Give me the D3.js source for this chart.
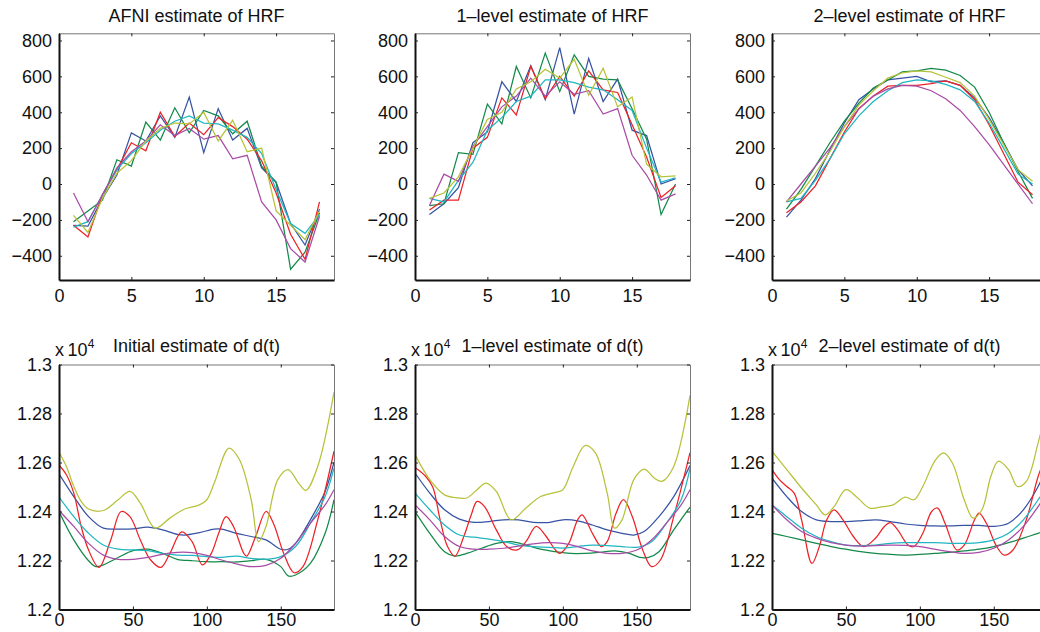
<!DOCTYPE html>
<html>
<head>
<meta charset="utf-8">
<script src="https://cdn.jsdelivr.net/npm/d3@7"></script>
<style>
  body { margin: 0; background: #fff; }
  svg { display: block; }
  text { font-family: "Liberation Sans", Arial, Helvetica, sans-serif; fill: #111; }
</style>
</head>
<body>
<svg id="chart"></svg>
<script>
// matlab colour order: blue, green, red, cyan, magenta, yellow
let colors = ["#3653a4", "#13894a", "#ec2227", "#1fb6c1", "#a94ca6", "#b7c239"]

let hrfIndex = [1, 2, 3, 4, 5, 6, 7, 8, 9, 10, 11, 12, 13, 14, 15, 16, 17, 18]

let afniHrf = [
    [-230, -235, -80, 50, 285, 240, 380, 260, 485, 175, 420, 245, 310, 90, 10, -220, -340, -140],
    [-210, -150, -90, 135, 100, 345, 245, 425, 285, 410, 380, 280, 350, 100, 10, -475, -380, -160],
    [-230, -295, -60, 80, 230, 185, 400, 265, 340, 275, 370, 320, 250, 130, -50, -280, -420, -100],
    [-240, -210, -60, 80, 170, 230, 300, 350, 380, 340, 335, 300, 260, 170, -30, -220, -275, -170],
    [-50, -210, -60, 90, 180, 240, 330, 270, 310, 250, 270, 140, 160, -100, -200, -360, -435, -180],
    [-175, -270, -80, 60, 130, 240, 310, 340, 335, 400, 240, 355, 180, 200, -150, -230, -310, -150]
]

let level1Hrf = [
    [-170, -110, -20, 230, 290, 570, 460, 660, 470, 760, 390, 700, 460, 585, 300, 270, 0, 30],
    [-120, -110, 175, 165, 445, 335, 655, 480, 730, 515, 720, 600, 585, 580, 420, 250, -170, 0],
    [-145, -90, -90, 200, 260, 480, 385, 655, 475, 600, 490, 630, 525, 510, 330, 150, -75, -10],
    [-80, -100, 20, 120, 300, 370, 460, 490, 580, 580, 565, 540, 525, 470, 410, 200, 10, 35],
    [-120, 55, 15, 210, 320, 430, 490, 590, 490, 570, 500, 520, 390, 420, 160, 50, -90, -55],
    [-80, -50, 40, 200, 360, 400, 530, 570, 640, 590, 695, 495, 645, 430, 485, 110, 40, 45]
]

let level2Hrf = [
    [-185, -90, 30, 190, 340, 470, 530, 580, 590, 600, 570, 575, 550, 480, 370, 230, 80, -10],
    [-140, -30, 100, 230, 350, 450, 535, 580, 625, 630, 645, 635, 605, 540, 400, 230, 70, -80],
    [-160, -100, -10, 140, 290, 420, 490, 545, 550, 550, 560, 575, 550, 470, 330, 170, 10, -60],
    [-100, -80, 20, 140, 280, 380, 460, 520, 565, 580, 575, 555, 525, 460, 340, 200, 55, 0],
    [-100, 0, 100, 200, 320, 420, 490, 530, 550, 545, 520, 475, 410, 320, 220, 110, 0, -110],
    [-95, -50, 60, 180, 320, 440, 520, 590, 620, 630, 625, 595, 565, 490, 360, 220, 80, 15]
]

// d(t) series as [t, value] pairs
let initBlue = [[0, 12554], [10, 12461], [20, 12379], [30, 12332], [40, 12328], [50, 12329], [60, 12336], [70, 12325], [80, 12307], [85, 12304], [95, 12314], [105, 12328], [110, 12328], [120, 12311], [130, 12298], [140, 12284], [150, 12246], [155, 12246], [160, 12270], [170, 12366], [180, 12482], [186, 12601]]
let initGreen = [[0, 12400], [10, 12284], [20, 12199], [25, 12175], [30, 12182], [40, 12212], [50, 12240], [60, 12246], [70, 12229], [80, 12205], [90, 12199], [100, 12195], [110, 12195], [120, 12194], [130, 12199], [140, 12205], [150, 12175], [155, 12137], [160, 12141], [170, 12188], [180, 12311], [186, 12448]]
let initRed = [[0, 12590], [5, 12550], [10, 12475], [15, 12339], [20, 12243], [27, 12172], [35, 12284], [42, 12400], [48, 12379], [55, 12284], [62, 12202], [69, 12172], [75, 12229], [83, 12317], [90, 12277], [97, 12182], [103, 12229], [108, 12311], [113, 12379], [118, 12339], [125, 12229], [127, 12218], [133, 12298], [140, 12400], [145, 12352], [152, 12229], [159, 12150], [165, 12175], [175, 12366], [186, 12646]]
let initCyan = [[0, 12459], [10, 12379], [20, 12311], [30, 12263], [40, 12246], [50, 12243], [60, 12240], [70, 12229], [80, 12222], [90, 12221], [100, 12216], [110, 12213], [120, 12218], [130, 12209], [140, 12205], [150, 12216], [160, 12257], [170, 12352], [180, 12461], [186, 12577]]
let initMagenta = [[0, 12404], [10, 12339], [20, 12270], [30, 12222], [40, 12205], [50, 12205], [60, 12213], [70, 12225], [80, 12233], [90, 12232], [100, 12221], [110, 12202], [120, 12186], [130, 12175], [140, 12180], [150, 12209], [160, 12270], [170, 12352], [180, 12427], [186, 12489]]
let initYellow = [[0, 12642], [5, 12584], [10, 12502], [15, 12441], [20, 12410], [30, 12404], [40, 12448], [48, 12482], [55, 12434], [65, 12332], [75, 12373], [85, 12410], [95, 12427], [100, 12448], [105, 12516], [115, 12659], [122, 12612], [130, 12448], [135, 12277], [140, 12339], [148, 12530], [155, 12571], [162, 12516], [167, 12486], [175, 12584], [186, 12887]]

let l1Blue = [[0, 12557], [10, 12475], [20, 12407], [30, 12369], [40, 12356], [50, 12359], [60, 12366], [70, 12366], [80, 12356], [90, 12355], [100, 12366], [110, 12362], [120, 12345], [130, 12325], [140, 12311], [148, 12304], [155, 12318], [165, 12379], [175, 12461], [186, 12588]]
let l1Green = [[0, 12400], [10, 12311], [20, 12236], [27, 12218], [35, 12229], [45, 12250], [55, 12270], [65, 12277], [75, 12263], [85, 12246], [95, 12236], [105, 12229], [115, 12229], [125, 12233], [135, 12239], [145, 12229], [152, 12213], [158, 12213], [165, 12236], [175, 12325], [186, 12418]]
let l1Red = [[0, 12580], [7, 12545], [12, 12500], [17, 12366], [22, 12257], [27, 12218], [33, 12298], [38, 12386], [42, 12441], [47, 12420], [55, 12325], [62, 12257], [69, 12243], [75, 12277], [82, 12339], [88, 12304], [95, 12243], [98, 12229], [104, 12270], [110, 12366], [113, 12386], [120, 12311], [126, 12257], [130, 12277], [136, 12393], [141, 12448], [147, 12379], [154, 12243], [160, 12175], [166, 12202], [175, 12379], [186, 12640]]
let l1Cyan = [[0, 12475], [10, 12407], [20, 12345], [30, 12304], [40, 12295], [50, 12287], [60, 12277], [70, 12263], [80, 12257], [90, 12254], [100, 12251], [110, 12257], [120, 12263], [130, 12261], [140, 12257], [150, 12254], [160, 12277], [170, 12352], [180, 12448], [186, 12576]]
let l1Magenta = [[0, 12427], [10, 12366], [20, 12298], [30, 12257], [40, 12246], [50, 12246], [60, 12250], [70, 12259], [80, 12268], [90, 12273], [100, 12270], [110, 12257], [120, 12239], [130, 12229], [140, 12229], [150, 12243], [160, 12284], [170, 12352], [180, 12427], [186, 12489]]
let l1Yellow = [[0, 12632], [10, 12530], [20, 12468], [30, 12455], [35, 12455], [42, 12489], [48, 12516], [55, 12482], [65, 12366], [75, 12414], [85, 12461], [95, 12478], [100, 12489], [107, 12584], [115, 12669], [122, 12639], [130, 12475], [135, 12332], [140, 12366], [148, 12530], [155, 12573], [162, 12536], [167, 12523], [175, 12584], [186, 12874]]

let l2Blue = [[0, 12536], [10, 12461], [20, 12400], [30, 12366], [40, 12359], [50, 12359], [60, 12362], [70, 12366], [80, 12359], [90, 12349], [100, 12343], [110, 12341], [120, 12341], [130, 12343], [140, 12343], [150, 12339], [160, 12352], [170, 12407], [180, 12502], [186, 12584]]
let l2Green = [[0, 12311], [10, 12298], [20, 12284], [30, 12270], [40, 12257], [50, 12246], [60, 12236], [70, 12229], [80, 12225], [90, 12222], [100, 12225], [110, 12229], [120, 12233], [130, 12239], [140, 12246], [150, 12257], [160, 12273], [170, 12291], [180, 12311], [186, 12322]]
let l2Red = [[0, 12571], [5, 12530], [10, 12502], [15, 12475], [20, 12366], [27, 12188], [32, 12257], [37, 12366], [42, 12407], [48, 12366], [55, 12298], [62, 12257], [70, 12291], [76, 12339], [80, 12355], [85, 12325], [92, 12263], [96, 12257], [102, 12311], [108, 12400], [112, 12414], [117, 12352], [125, 12243], [130, 12263], [137, 12366], [140, 12393], [145, 12352], [152, 12257], [157, 12222], [163, 12243], [172, 12366], [180, 12543], [186, 12639]]
let l2Cyan = [[0, 12427], [10, 12379], [20, 12332], [30, 12298], [40, 12277], [50, 12263], [60, 12261], [70, 12263], [80, 12270], [90, 12273], [100, 12273], [110, 12273], [120, 12270], [130, 12270], [140, 12273], [150, 12284], [160, 12311], [170, 12366], [180, 12448], [186, 12502]]
let l2Magenta = [[0, 12427], [10, 12366], [20, 12318], [30, 12291], [40, 12273], [50, 12263], [60, 12259], [70, 12261], [80, 12263], [90, 12262], [100, 12257], [110, 12246], [120, 12236], [130, 12229], [140, 12233], [150, 12250], [160, 12284], [170, 12339], [180, 12420], [186, 12475]]
let l2Yellow = [[0, 12646], [10, 12571], [20, 12496], [30, 12427], [36, 12386], [42, 12420], [50, 12489], [58, 12455], [66, 12414], [75, 12420], [82, 12427], [90, 12459], [96, 12448], [102, 12502], [110, 12605], [116, 12639], [122, 12598], [130, 12448], [136, 12373], [142, 12407], [148, 12543], [153, 12605], [160, 12571], [166, 12502], [172, 12523], [180, 12680], [186, 12830]]

let initD = [initBlue, initGreen, initRed, initCyan, initMagenta, initYellow]
let level1D = [l1Blue, l1Green, l1Red, l1Cyan, l1Magenta, l1Yellow]
let level2D = [l2Blue, l2Green, l2Red, l2Cyan, l2Magenta, l2Yellow]

let hrfTitles = ["AFNI estimate of HRF", "1\u2013level estimate of HRF", "2\u2013level estimate of HRF"]
let dTitles = ["Initial estimate of d(t)", "1\u2013level estimate of d(t)", "2\u2013level estimate of d(t)"]

let hrfXTicks = [0, 5, 10, 15]
let hrfYTicks = [-400, -200, 0, 200, 400, 600, 800]
let dXTicks = [0, 50, 100, 150]
let dYTicks = [12000, 12200, 12400, 12600, 12800, 13000]
let dYLabels = ["1.2", "1.22", "1.24", "1.26", "1.28", "1.3"]

let width = 1040, height = 632
let colLeft = [59, 415, 772], panelW = 275
let row1 = { top: 33.3, bottom: 280, xPad: 9 },
    row2 = { top: 364.5, bottom: 609.5, xPad: 4 }

let svg = d3.select("#chart")
    .attr("width", width)
    .attr("height", height)

function styleAxis(g, main) {
    g.attr("font-size", 18).attr("font-family", null)
    g.select(".domain")
        .attr("stroke", main ? "#111" : "#777")
        .attr("stroke-width", main ? 2 : 1)
    g.selectAll(".tick line").attr("stroke", "#222").attr("stroke-width", 1)
    g.selectAll(".tick text").attr("fill", "#111")
}

function drawPanel(id, left, row, xDomain, yDomain, xTicks, yTicks, yFormat, series, lineGen) {
    let h = row.bottom - row.top
    let x = d3.scaleLinear().domain(xDomain).range([0, panelW])
    let y = d3.scaleLinear().domain(yDomain).range([h, 0])

    let g = svg.append("g").attr("transform", "translate(" + left + "," + row.top + ")")

    g.append("defs").append("clipPath")
        .attr("id", "clip" + id)
        .append("rect")
        .attr("width", panelW)
        .attr("height", h)

    let line = lineGen(x, y)
    g.append("g")
        .attr("clip-path", "url(#clip" + id + ")")
        .selectAll("path")
        .data(series)
        .join("path")
        .attr("d", line)
        .attr("fill", "none")
        .attr("stroke", (d, i) => colors[i])
        .attr("stroke-width", 1.25)

    // box: thin top/right with inward ticks
    g.append("g").call(d3.axisTop(x).tickValues(xTicks).tickSizeInner(-3).tickSizeOuter(0).tickFormat(""))
        .call(s => styleAxis(s, false))
    g.append("g").attr("transform", "translate(" + panelW + ",0)")
        .call(d3.axisRight(y).tickValues(yTicks).tickSizeInner(-3).tickSizeOuter(0).tickFormat(""))
        .call(s => styleAxis(s, false))

    g.append("g").attr("transform", "translate(0," + h + ")")
        .call(d3.axisBottom(x).tickValues(xTicks).tickSizeInner(-3).tickSizeOuter(0).tickPadding(row.xPad))
        .call(s => styleAxis(s, true))
    g.append("g")
        .call(d3.axisLeft(y).tickValues(yTicks).tickSizeInner(-3).tickSizeOuter(0).tickPadding(7).tickFormat(yFormat))
        .call(s => styleAxis(s, true))

    return g
}

let hrfLine = (x, y) => d3.line()
    .x((d, i) => x(hrfIndex[i]))
    .y(d => y(d))

let dLine = (x, y) => d3.line()
    .curve(d3.curveCatmullRom.alpha(0.5))
    .x(d => x(d[0]))
    .y(d => y(d[1]))

let hrfSets = [afniHrf, level1Hrf, level2Hrf]
let dSets = [initD, level1D, level2D]

hrfSets.forEach((s, i) => {
    drawPanel("h" + i, colLeft[i], row1, [0, 19], [-535, 840], hrfXTicks, hrfYTicks, d3.format("d"), s, hrfLine)
    svg.append("text")
        .attr("x", colLeft[i] + panelW / 2)
        .attr("y", 22)
        .attr("text-anchor", "middle")
        .attr("font-size", 18)
        .text(hrfTitles[i])
})

dSets.forEach((s, i) => {
    drawPanel("d" + i, colLeft[i], row2, [0, 186], [12000, 13000], dXTicks, dYTicks, (d, k) => dYLabels[k], s, dLine)
    svg.append("text")
        .attr("x", colLeft[i] + panelW / 2)
        .attr("y", 352)
        .attr("text-anchor", "middle")
        .attr("font-size", 18)
        .text(dTitles[i])

    let exp = svg.append("text")
        .attr("x", colLeft[i] - 4)
        .attr("y", 356)
        .attr("font-size", 18)
    exp.append("tspan").text("x\u200910")
    exp.append("tspan").attr("font-size", 12).attr("dy", -8).text("4")
})
</script>
</body>
</html>
